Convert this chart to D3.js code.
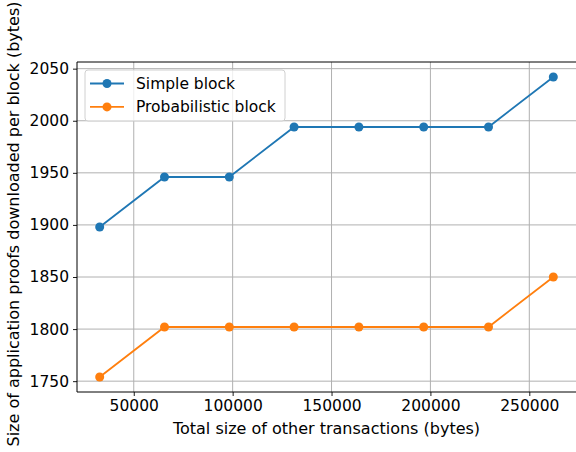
<!DOCTYPE html>
<html lang="en">
<head>
<meta charset="UTF-8">
<title>Application proofs per block</title>
<script src="https://d3js.org/d3.v7.min.js"></script>
<style>
  body { margin: 0; background: #fff; }
  svg text { font-family: "DejaVu Sans", sans-serif; fill: #000; }
  .grid line { stroke: #b0b0b0; stroke-width: 1; }
</style>
</head>
<body>
<svg width="576" height="452"></svg>
<script>
const xValues = [32768, 65536, 98304, 131072, 163840, 196608, 229376, 262144];
const simpleBlock = [1898, 1946, 1946, 1994, 1994, 1994, 1994, 2042];
const probBlock = [1754, 1802, 1802, 1802, 1802, 1802, 1802, 1850];
const xTicks = [50000, 100000, 150000, 200000, 250000];
const yTicks = [1750, 1800, 1850, 1900, 1950, 2000, 2050];

const series = [
  { name: "Simple block", values: simpleBlock, color: "#1f77b4" },
  { name: "Probabilistic block", values: probBlock, color: "#ff7f0e" }
];

const fs = "15.5px";
const labelFs = "16px";
const margin = { left: 77, right: 0, top: 62, bottom: 60 };
const width = 576, height = 452;
const svg = d3.select("svg");

// matplotlib style 5% padding
const xPad = (d3.max(xValues) - d3.min(xValues)) * 0.05;
const allY = simpleBlock.concat(probBlock);
const yPad = (d3.max(allY) - d3.min(allY)) * 0.05;

const x = d3.scaleLinear()
  .domain([d3.min(xValues) - xPad, d3.max(xValues) + xPad])
  .range([margin.left, width - margin.right]);
const y = d3.scaleLinear()
  .domain([d3.min(allY) - yPad, d3.max(allY) + yPad])
  .range([height - margin.bottom, margin.top]);

// grid
svg.append("g").attr("class", "grid")
  .selectAll("line").data(xTicks).join("line")
  .attr("x1", d => x(d)).attr("x2", d => x(d))
  .attr("y1", margin.top).attr("y2", height - margin.bottom);
svg.append("g").attr("class", "grid")
  .selectAll("line").data(yTicks).join("line")
  .attr("x1", margin.left).attr("x2", width - margin.right)
  .attr("y1", d => y(d)).attr("y2", d => y(d));

// axes
const xAxis = svg.append("g")
  .attr("transform", `translate(0,${height - margin.bottom})`)
  .call(d3.axisBottom(x).tickValues(xTicks).tickFormat(d3.format("d")).tickSize(4).tickPadding(4));
const yAxis = svg.append("g")
  .attr("transform", `translate(${margin.left},0)`)
  .call(d3.axisLeft(y).tickValues(yTicks).tickFormat(d3.format("d")).tickSize(4).tickPadding(4));
[xAxis, yAxis].forEach(a => {
  a.select(".domain").remove();
  a.selectAll(".tick line").attr("stroke", "#000").attr("stroke-width", 0.9);
  a.selectAll(".tick text").style("font-size", fs).style("font-family", "DejaVu Sans, sans-serif");
});

// frame
svg.append("line").attr("x1", margin.left).attr("x2", margin.left)
  .attr("y1", margin.top).attr("y2", height - margin.bottom).attr("stroke", "#000").attr("stroke-width", 1);
svg.append("line").attr("x1", margin.left).attr("x2", width)
  .attr("y1", height - margin.bottom).attr("y2", height - margin.bottom).attr("stroke", "#000").attr("stroke-width", 1);
svg.append("line").attr("x1", margin.left).attr("x2", width)
  .attr("y1", margin.top).attr("y2", margin.top).attr("stroke", "#000").attr("stroke-width", 1);

// lines + markers
const line = d3.line().x((d, i) => x(xValues[i])).y(d => y(d));
series.forEach(s => {
  svg.append("path").datum(s.values)
    .attr("d", line).attr("fill", "none")
    .attr("stroke", s.color).attr("stroke-width", 1.8);
  svg.append("g").selectAll("circle").data(s.values).join("circle")
    .attr("cx", (d, i) => x(xValues[i])).attr("cy", d => y(d))
    .attr("r", 4.5).attr("fill", s.color);
});

// axis labels
svg.append("text")
  .attr("x", (margin.left + width) / 2).attr("y", 434)
  .attr("text-anchor", "middle").style("font-size", labelFs)
  .text("Total size of other transactions (bytes)");
svg.append("text")
  .attr("transform", "translate(19,224) rotate(-90)")
  .attr("text-anchor", "middle").style("font-size", labelFs)
  .text("Size of application proofs downloaded per block (bytes)");

// legend
const legend = svg.append("g").attr("transform", "translate(85,70)");
legend.append("rect")
  .attr("width", 200).attr("height", 51).attr("rx", 3)
  .attr("fill", "#fff").attr("fill-opacity", 0.8)
  .attr("stroke", "#d0d0d0");
series.forEach((s, i) => {
  const gy = 13.5 + i * 23.4;
  legend.append("line").attr("x1", 5).attr("x2", 39).attr("y1", gy).attr("y2", gy)
    .attr("stroke", s.color).attr("stroke-width", 1.8);
  legend.append("circle").attr("cx", 22).attr("cy", gy).attr("r", 4.5).attr("fill", s.color);
  legend.append("text").attr("x", 51).attr("y", gy).attr("dy", "0.35em")
    .style("font-size", fs).text(s.name);
});
</script>
</body>
</html>
